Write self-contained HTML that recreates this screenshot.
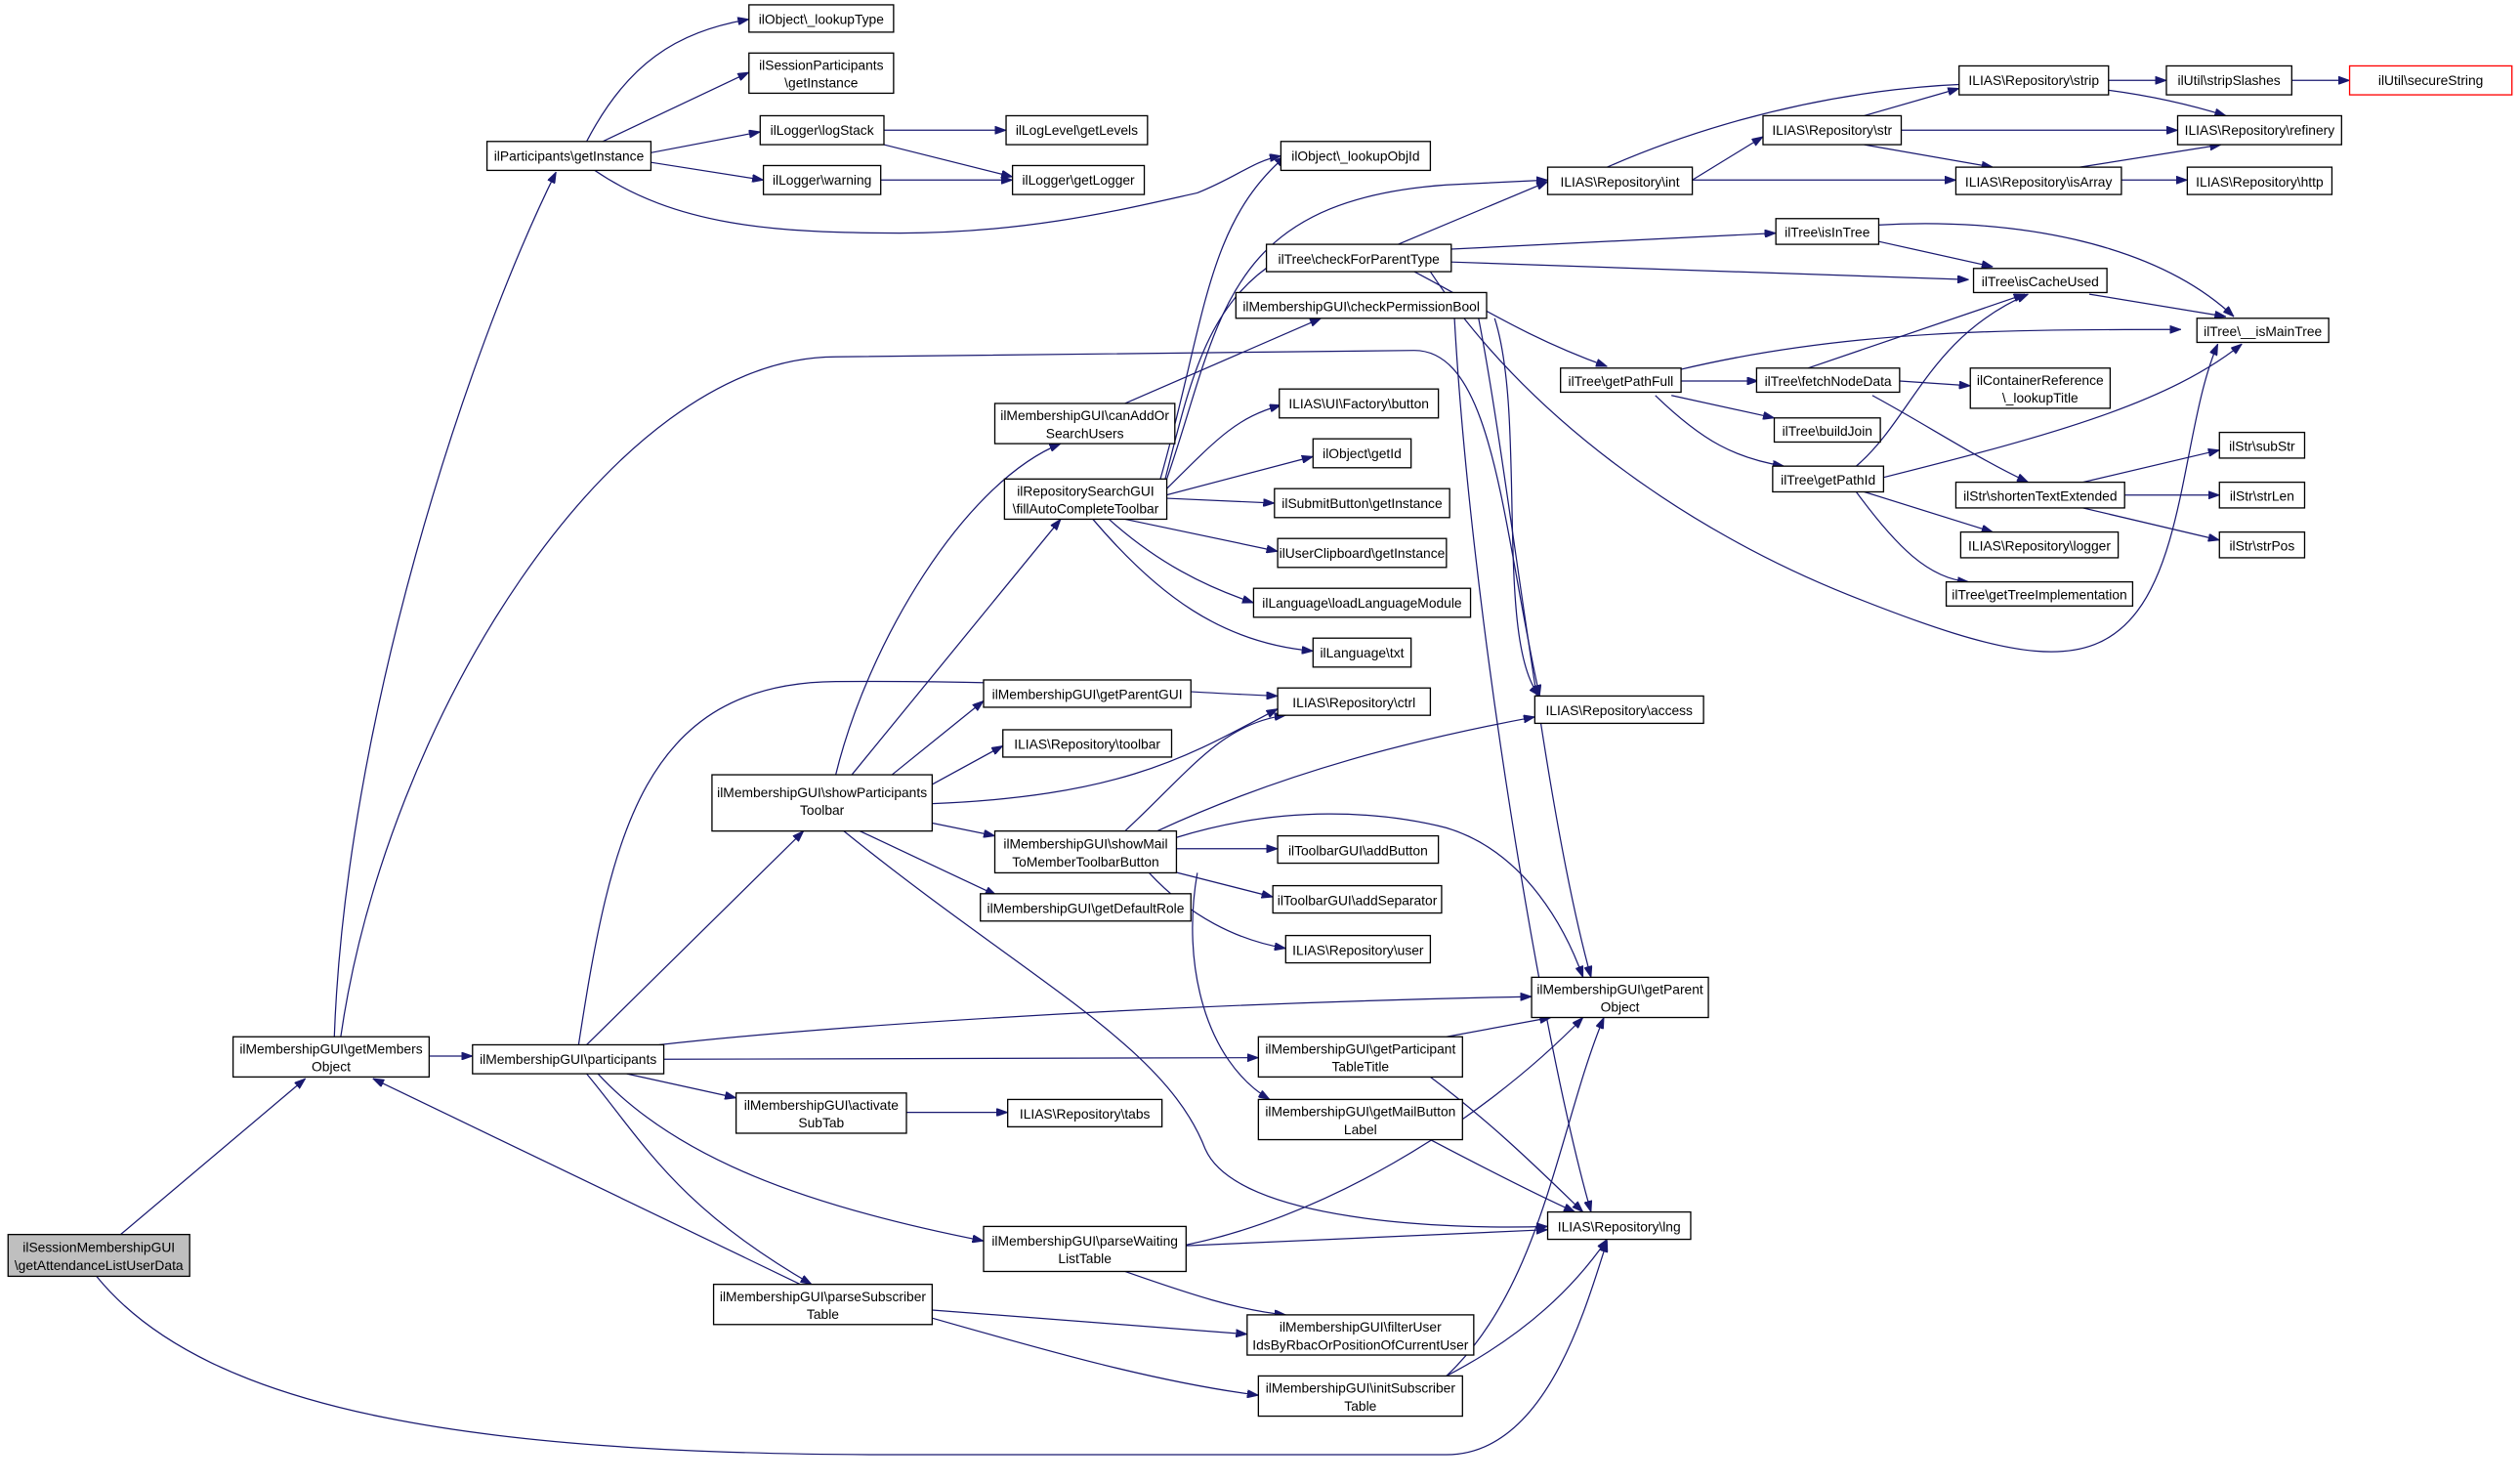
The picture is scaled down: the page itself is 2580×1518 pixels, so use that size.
<!DOCTYPE html>
<html><head><meta charset="utf-8"><style>
html,body{margin:0;padding:0;background:#fff;}
svg{display:block;}
text{font-family:"Liberation Sans",Arial,sans-serif;font-size:8.4px;fill:#000;text-anchor:middle;}
rect{fill:#fff;stroke:#000;stroke-width:0.8;}
path{fill:none;stroke:#191970;stroke-width:0.75;}
</style></head><body>
<svg width="2580" height="1518" viewBox="0 0 1568 922.6" xmlns="http://www.w3.org/2000/svg">
<defs><marker id="a" markerUnits="userSpaceOnUse" markerWidth="7" markerHeight="5" refX="7" refY="2.5" orient="auto"><path d="M0,0 L7,2.5 L0,5 z" style="fill:#191970;stroke:#191970;stroke-width:0.5"/></marker></defs>
<g marker-end="url(#a)">
<path d="M75,768 L190,671"/>
<path d="M60,794 C130,880 300,905 560,905 L900,905 C960,905 985,820 1000,772"/>
<path d="M267,657 L294,657"/>
<path d="M208,645 C215,450 290,220 346,107"/>
<path d="M212,645 C240,450 380,222 520,222 L880,218 C930,218 935,330 958,433"/>
<path d="M360,650 C380,520 400,425 520,424 C650,423 720,430 795,433"/>
<path d="M365,650 L500,517"/>
<path d="M410,650 C500,640 700,625 953,620"/>
<path d="M413,659 L783,658"/>
<path d="M390,668 L458,683"/>
<path d="M365,668 C400,710 420,750 505,799"/>
<path d="M372,668 C420,720 500,750 612,772"/>
<path d="M498,799 L232,671"/>
<path d="M564,692 L627,692"/>
<path d="M520,482 C540,400 600,300 660,276"/>
<path d="M530,482 L660,323"/>
<path d="M555,482 L612,436"/>
<path d="M580,488 L624,464"/>
<path d="M580,500 C700,495 740,470 795,441"/>
<path d="M570,510 L619,520"/>
<path d="M535,517 L620,557"/>
<path d="M525,517 C640,610 725,650 750,715 C770,760 900,765 963,763"/>
<path d="M732,528 L795,528"/>
<path d="M725,541 L792,558"/>
<path d="M715,543 C740,570 770,585 800,590"/>
<path d="M700,517 C740,480 760,450 800,445"/>
<path d="M720,517 C800,480 880,460 955,446"/>
<path d="M732,521 C800,500 860,505 900,515 C950,530 975,580 985,608"/>
<path d="M745,543 C735,600 750,660 790,684"/>
<path d="M700,251 L822,198"/>
<path d="M725,298 C740,240 750,190 795,162"/>
<path d="M722,298 C750,200 750,140 800,97"/>
<path d="M726,298 C760,200 760,125 900,115 L963,112"/>
<path d="M725,305 C760,270 770,260 797,252"/>
<path d="M718,310 L817,284"/>
<path d="M726,310 L793,313"/>
<path d="M700,323 L795,343"/>
<path d="M690,323 C720,350 750,365 780,375"/>
<path d="M680,323 C720,370 760,400 817,405"/>
<path d="M365,88 C390,40 420,20 466,12"/>
<path d="M375,88 L466,45"/>
<path d="M405,95 L473,82"/>
<path d="M405,101 L475,112"/>
<path d="M370,106 C420,140 480,145 560,145 C640,145 700,130 745,120 C770,110 780,100 797,97"/>
<path d="M550,81 L626,81"/>
<path d="M550,90 L630,110"/>
<path d="M548,112 L630,112"/>
<path d="M870,152 L963,113"/>
<path d="M903,155 L1105,145"/>
<path d="M903,163 L1225,174"/>
<path d="M880,169 C920,190 950,210 1000,228"/>
<path d="M890,169 C950,260 1050,330 1150,370 C1250,410 1300,420 1330,380 C1360,340 1360,260 1380,214"/>
<path d="M920,198 C940,300 960,500 990,608"/>
<path d="M930,198 C950,260 930,400 958,433"/>
<path d="M905,198 C915,380 960,650 990,754"/>
<path d="M900,645 L965,633"/>
<path d="M890,670 C930,700 960,730 985,754"/>
<path d="M890,709 C930,730 960,745 980,754"/>
<path d="M900,856 C960,800 970,700 998,633"/>
<path d="M900,856 C950,830 980,800 1000,771"/>
<path d="M730,776 C820,760 920,700 985,633"/>
<path d="M738,775 L963,765"/>
<path d="M700,791 C740,805 770,815 800,818"/>
<path d="M580,815 L776,830"/>
<path d="M580,820 C650,840 720,860 783,868"/>
<path d="M1053,112 L1097,85"/>
<path d="M1053,112 L1217,112"/>
<path d="M1000,104 C1100,60 1250,30 1385,72"/>
<path d="M1160,72 L1219,55"/>
<path d="M1183,81 L1355,81"/>
<path d="M1160,90 L1240,104"/>
<path d="M1312,50 L1348,50"/>
<path d="M1426,50 L1462,50"/>
<path d="M1294,104 L1382,90"/>
<path d="M1320,112 L1361,112"/>
<path d="M1168,150 L1240,166"/>
<path d="M1168,140 C1250,135 1340,150 1390,197"/>
<path d="M1300,183 L1385,197"/>
<path d="M1045,230 C1150,205 1250,205 1357,205"/>
<path d="M1045,237 L1094,237"/>
<path d="M1040,246 L1104,260"/>
<path d="M1030,246 C1060,275 1080,285 1110,290"/>
<path d="M1125,229 L1260,183"/>
<path d="M1182,237 L1226,240"/>
<path d="M1165,246 C1200,265 1230,285 1262,300"/>
<path d="M1155,290 C1190,260 1200,210 1262,183"/>
<path d="M1172,297 C1280,270 1350,250 1395,214"/>
<path d="M1160,306 L1240,331"/>
<path d="M1155,306 C1180,340 1200,360 1225,362"/>
<path d="M1296,300 L1381,280"/>
<path d="M1322,308 L1381,308"/>
<path d="M1296,316 L1381,336"/>
</g>
<rect x="5" y="768" width="113" height="26" style="fill:#bfbfbf"/><text x="61.5" y="779">ilSessionMembershipGUI</text><text x="61.5" y="790">\getAttendanceListUserData</text>
<rect x="145" y="645" width="122" height="25"/><text x="206" y="655.5">ilMembershipGUI\getMembers</text><text x="206" y="666.5">Object</text>
<rect x="294" y="650" width="119" height="18"/><text x="353.5" y="662">ilMembershipGUI\participants</text>
<rect x="303" y="88" width="102" height="18"/><text x="354" y="100">ilParticipants\getInstance</text>
<rect x="466" y="3" width="90" height="17"/><text x="511" y="15">ilObject\_lookupType</text>
<rect x="466" y="33" width="90" height="25"/><text x="511" y="43.5">ilSessionParticipants</text><text x="511" y="54.5">\getInstance</text>
<rect x="473" y="72" width="77" height="18"/><text x="511.5" y="84">ilLogger\logStack</text>
<rect x="475" y="103" width="73" height="18"/><text x="511.5" y="115">ilLogger\warning</text>
<rect x="626" y="72" width="88" height="18"/><text x="670" y="84">ilLogLevel\getLevels</text>
<rect x="630" y="103" width="82" height="18"/><text x="671" y="115">ilLogger\getLogger</text>
<rect x="797" y="88" width="93" height="18"/><text x="843.5" y="100">ilObject\_lookupObjId</text>
<rect x="625" y="298" width="101" height="25"/><text x="675.5" y="308.5">ilRepositorySearchGUI</text><text x="675.5" y="319.5">\fillAutoCompleteToolbar</text>
<rect x="619" y="251" width="112" height="25"/><text x="675" y="261.5">ilMembershipGUI\canAddOr</text><text x="675" y="272.5">SearchUsers</text>
<rect x="788" y="152" width="115" height="17"/><text x="845.5" y="164">ilTree\checkForParentType</text>
<rect x="769" y="182" width="156" height="16"/><text x="847" y="193.5">ilMembershipGUI\checkPermissionBool</text>
<rect x="796" y="242" width="99" height="18"/><text x="845.5" y="254">ILIAS\UI\Factory\button</text>
<rect x="817" y="273" width="61" height="18"/><text x="847.5" y="285">ilObject\getId</text>
<rect x="793" y="304" width="109" height="18"/><text x="847.5" y="316">ilSubmitButton\getInstance</text>
<rect x="795" y="335" width="105" height="18"/><text x="847.5" y="347">ilUserClipboard\getInstance</text>
<rect x="780" y="366" width="135" height="18"/><text x="847.5" y="378">ilLanguage\loadLanguageModule</text>
<rect x="817" y="397" width="61" height="18"/><text x="847.5" y="409">ilLanguage\txt</text>
<rect x="612" y="423" width="129" height="17"/><text x="676.5" y="435">ilMembershipGUI\getParentGUI</text>
<rect x="795" y="428" width="95" height="17"/><text x="842.5" y="440">ILIAS\Repository\ctrl</text>
<rect x="624" y="454" width="105" height="17"/><text x="676.5" y="466">ILIAS\Repository\toolbar</text>
<rect x="443" y="482" width="137" height="35"/><text x="511.5" y="496">ilMembershipGUI\showParticipants</text><text x="511.5" y="507">Toolbar</text>
<rect x="619" y="517" width="113" height="26"/><text x="675.5" y="528">ilMembershipGUI\showMail</text><text x="675.5" y="539">ToMemberToolbarButton</text>
<rect x="610" y="556" width="131" height="17"/><text x="675.5" y="568">ilMembershipGUI\getDefaultRole</text>
<rect x="795" y="520" width="100" height="17"/><text x="845" y="532">ilToolbarGUI\addButton</text>
<rect x="792" y="551" width="105" height="17"/><text x="844.5" y="563">ilToolbarGUI\addSeparator</text>
<rect x="800" y="582" width="90" height="17"/><text x="845" y="594">ILIAS\Repository\user</text>
<rect x="955" y="433" width="105" height="17"/><text x="1007.5" y="445">ILIAS\Repository\access</text>
<rect x="953" y="608" width="110" height="25"/><text x="1008" y="618.5">ilMembershipGUI\getParent</text><text x="1008" y="629.5">Object</text>
<rect x="783" y="645" width="127" height="25"/><text x="846.5" y="655.5">ilMembershipGUI\getParticipant</text><text x="846.5" y="666.5">TableTitle</text>
<rect x="458" y="680" width="106" height="25"/><text x="511" y="690.5">ilMembershipGUI\activate</text><text x="511" y="701.5">SubTab</text>
<rect x="627" y="684" width="96" height="17"/><text x="675" y="696">ILIAS\Repository\tabs</text>
<rect x="783" y="684" width="127" height="25"/><text x="846.5" y="694.5">ilMembershipGUI\getMailButton</text><text x="846.5" y="705.5">Label</text>
<rect x="963" y="754" width="89" height="17"/><text x="1007.5" y="766">ILIAS\Repository\lng</text>
<rect x="612" y="763" width="126" height="28"/><text x="675" y="775">ilMembershipGUI\parseWaiting</text><text x="675" y="786">ListTable</text>
<rect x="444" y="799" width="136" height="25"/><text x="512" y="809.5">ilMembershipGUI\parseSubscriber</text><text x="512" y="820.5">Table</text>
<rect x="776" y="818" width="141" height="25"/><text x="846.5" y="828.5">ilMembershipGUI\filterUser</text><text x="846.5" y="839.5">IdsByRbacOrPositionOfCurrentUser</text>
<rect x="783" y="856" width="127" height="25"/><text x="846.5" y="866.5">ilMembershipGUI\initSubscriber</text><text x="846.5" y="877.5">Table</text>
<rect x="963" y="104" width="90" height="17"/><text x="1008" y="116">ILIAS\Repository\int</text>
<rect x="1097" y="72" width="86" height="18"/><text x="1140" y="84">ILIAS\Repository\str</text>
<rect x="1219" y="41" width="93" height="18"/><text x="1265.5" y="53">ILIAS\Repository\strip</text>
<rect x="1348" y="41" width="78" height="18"/><text x="1387" y="53">ilUtil\stripSlashes</text>
<rect x="1462" y="41" width="101" height="18" style="stroke:#ff0000"/><text x="1512.5" y="53">ilUtil\secureString</text>
<rect x="1355" y="72" width="102" height="18"/><text x="1406" y="84">ILIAS\Repository\refinery</text>
<rect x="1217" y="104" width="103" height="17"/><text x="1268.5" y="116">ILIAS\Repository\isArray</text>
<rect x="1361" y="104" width="90" height="17"/><text x="1406" y="116">ILIAS\Repository\http</text>
<rect x="1105" y="136" width="64" height="16"/><text x="1137" y="147.5">ilTree\isInTree</text>
<rect x="1228" y="167" width="83" height="15"/><text x="1269.5" y="178">ilTree\isCacheUsed</text>
<rect x="1367" y="198" width="82" height="15"/><text x="1408" y="209">ilTree\__isMainTree</text>
<rect x="971" y="229" width="75" height="15"/><text x="1008.5" y="240">ilTree\getPathFull</text>
<rect x="1093" y="229" width="89" height="15"/><text x="1137.5" y="240">ilTree\fetchNodeData</text>
<rect x="1226" y="229" width="87" height="25"/><text x="1269.5" y="239.5">ilContainerReference</text><text x="1269.5" y="250.5">\_lookupTitle</text>
<rect x="1104" y="260" width="66" height="15"/><text x="1137" y="271">ilTree\buildJoin</text>
<rect x="1103" y="290" width="69" height="16"/><text x="1137.5" y="301.5">ilTree\getPathId</text>
<rect x="1217" y="300" width="105" height="16"/><text x="1269.5" y="311.5">ilStr\shortenTextExtended</text>
<rect x="1381" y="269" width="53" height="16"/><text x="1407.5" y="280.5">ilStr\subStr</text>
<rect x="1381" y="300" width="53" height="16"/><text x="1407.5" y="311.5">ilStr\strLen</text>
<rect x="1381" y="331" width="53" height="16"/><text x="1407.5" y="342.5">ilStr\strPos</text>
<rect x="1220" y="331" width="98" height="16"/><text x="1269" y="342.5">ILIAS\Repository\logger</text>
<rect x="1211" y="362" width="116" height="15"/><text x="1269" y="373">ilTree\getTreeImplementation</text>
</svg>
</body></html>
